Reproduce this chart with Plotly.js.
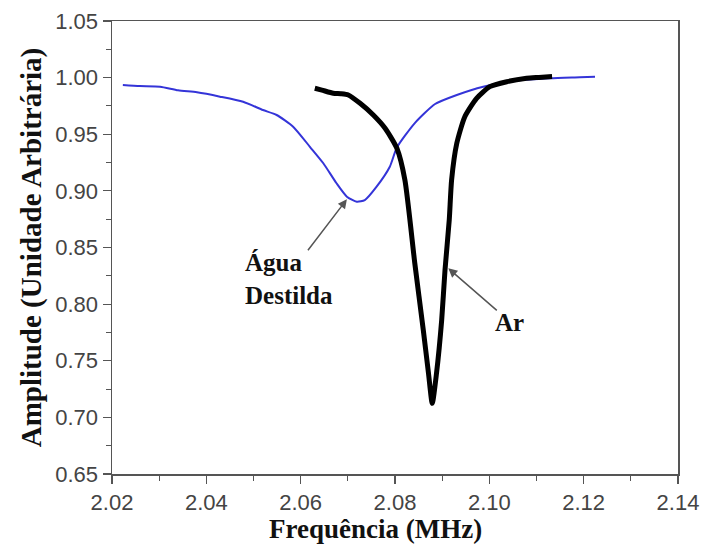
<!DOCTYPE html>
<html>
<head>
<meta charset="utf-8">
<script src="https://cdn.plot.ly/plotly-3.0.1.min.js"></script>
<style>
  html, body { margin: 0; padding: 0; background: #fff; }
  #chart { width: 704px; height: 549px; }
</style>
</head>
<body>
<div id="chart"></div>
<script>
// Água Destilada (blue)
const aguaFreq = [2.0223, 2.0259, 2.0302, 2.0340, 2.0380, 2.0429, 2.0478, 2.0520, 2.0549, 2.0584, 2.0620, 2.0648, 2.0676, 2.0698, 2.0719, 2.0736, 2.0761, 2.0789, 2.0804, 2.0842, 2.0885, 2.0931, 2.0987, 2.1058, 2.1129, 2.1192, 2.1224];
const aguaAmp  = [0.9935, 0.9926, 0.9920, 0.9888, 0.9870, 0.9832, 0.9787, 0.9714, 0.9670, 0.9567, 0.9387, 0.9244, 0.9067, 0.8949, 0.8904, 0.8919, 0.9037, 0.9213, 0.9383, 0.9599, 0.9767, 0.9847, 0.9920, 0.9973, 0.9994, 1.0003, 1.0008];

// Ar (black)
const arFreq = [2.0630, 2.0645, 2.0669, 2.0685, 2.0701, 2.0726, 2.0754, 2.0779, 2.0804, 2.0821, 2.0842, 2.0860, 2.0871, 2.0879, 2.0888, 2.0899, 2.0906, 2.0915, 2.0920, 2.0931, 2.0948, 2.0973, 2.1001, 2.1037, 2.1079, 2.1105, 2.1133];
const arAmp  = [0.9906, 0.9890, 0.9862, 0.9858, 0.9847, 0.9773, 0.9670, 0.9553, 0.9376, 0.9096, 0.8360, 0.7771, 0.7389, 0.7124, 0.7389, 0.7860, 0.8301, 0.8743, 0.9096, 0.9420, 0.9655, 0.9817, 0.9920, 0.9964, 0.9994, 1.0002, 1.0010];

const xTicks = [2.02, 2.04, 2.06, 2.08, 2.10, 2.12, 2.14];
const yTicks = [0.65, 0.70, 0.75, 0.80, 0.85, 0.90, 0.95, 1.00, 1.05];

const labelAgua = 'Água<br>Destilda';
const labelAr = 'Ar';
const xTitle = 'Frequência (MHz)';
const yTitle = 'Amplitude (Unidade Arbitrária)';

const serif = '"Times New Roman", "Liberation Serif", serif';
const sans = 'Arial, "Liberation Sans", sans-serif';

const traces = [
  {
    x: aguaFreq, y: aguaAmp, type: 'scatter', mode: 'lines',
    line: { color: '#3434d8', width: 2, shape: 'spline', smoothing: 0.6 },
    hoverinfo: 'skip', showlegend: false
  },
  {
    x: arFreq, y: arAmp, type: 'scatter', mode: 'lines',
    line: { color: '#000000', width: 5, shape: 'spline', smoothing: 0.6 },
    hoverinfo: 'skip', showlegend: false
  }
];

const axisCommon = {
  showgrid: false, zeroline: false,
  showline: true, linecolor: '#555', linewidth: 1.5, mirror: true,
  ticks: 'outside', ticklen: 8, tickwidth: 1.2, tickcolor: '#555',
  tickfont: { family: sans, size: 22, color: '#444' }
};

const layout = {
  width: 704, height: 549,
  margin: { l: 112, r: 26, t: 21, b: 75 },
  paper_bgcolor: '#fff', plot_bgcolor: '#fff',
  xaxis: Object.assign({}, axisCommon, {
    range: [2.02, 2.14], tickvals: xTicks, ticktext: xTicks.map(v => v.toFixed(2)),
    minor: { ticks: 'outside', ticklen: 5, tickwidth: 1, tickcolor: '#555', dtick: 0.01, tick0: 2.02 }
  }),
  yaxis: Object.assign({}, axisCommon, {
    range: [0.65, 1.05], tickvals: yTicks, ticktext: yTicks.map(v => v.toFixed(2)),
    minor: { ticks: 'outside', ticklen: 5, tickwidth: 1, tickcolor: '#555', dtick: 0.025, tick0: 0.65 },
    title: { text: yTitle, font: { family: serif, size: 29, color: '#111', weight: 'bold' }, standoff: 5 }
  }),
  annotations: [
    { x: 0.4647, y: 0, xref: 'paper', yref: 'paper', xanchor: 'center', yanchor: 'middle', yshift: -55,
      text: xTitle, showarrow: false, font: { family: serif, size: 27, color: '#111', weight: 'bold' } },
    { x: 2.0698, y: 0.8926, ax: 2.0613, ay: 0.8463, axref: 'x', ayref: 'y', xref: 'x', yref: 'y',
      text: '', showarrow: true, arrowhead: 2, arrowsize: 1.2, arrowwidth: 1.5, arrowcolor: '#555' },
    { x: 2.0913, y: 0.8316, ax: 2.1019, ay: 0.7933, axref: 'x', ayref: 'y', xref: 'x', yref: 'y',
      text: '', showarrow: true, arrowhead: 2, arrowsize: 1.2, arrowwidth: 1.5, arrowcolor: '#555' },
    { x: 2.0478, y: 0.8222, xref: 'x', yref: 'y', xanchor: 'left', yanchor: 'middle', align: 'left',
      text: labelAgua, showarrow: false, font: { family: serif, size: 25, color: '#111', weight: 'bold' } },
    { x: 2.1043, y: 0.7838, xref: 'x', yref: 'y', xanchor: 'center', yanchor: 'middle',
      text: labelAr, showarrow: false, font: { family: serif, size: 25, color: '#111', weight: 'bold' } }
  ]
};

Plotly.newPlot('chart', traces, layout, { staticPlot: true, displayModeBar: false });
</script>
</body>
</html>
